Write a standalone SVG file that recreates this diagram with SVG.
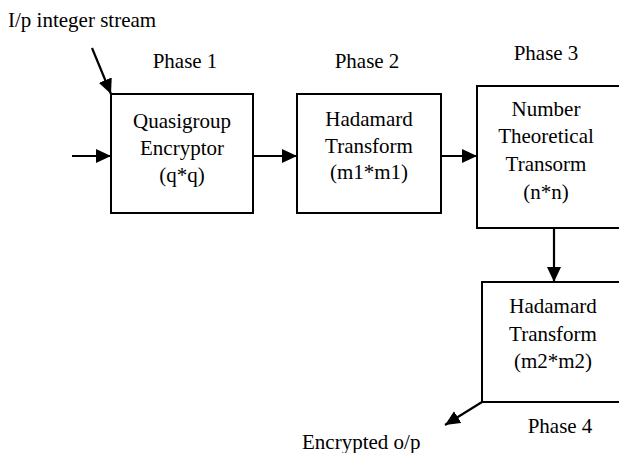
<svg xmlns="http://www.w3.org/2000/svg" width="619" height="453" viewBox="0 0 619 453" font-family="Liberation Serif, Times New Roman, serif" font-size="21">
<style>
.c{text-anchor:middle}
.box{fill:#fff;stroke:#000;stroke-width:2}
.ln{stroke:#000;stroke-width:2.2;fill:none;marker-end:url(#ah)}
</style>
<defs>
<marker id="ah" markerUnits="userSpaceOnUse" markerWidth="16" markerHeight="14" refX="15" refY="7" orient="auto">
<path d="M0,0 L15,7 L0,14 Z" fill="#000"/>
</marker>
</defs>
<rect width="619" height="453" fill="#fff"/>
<text x="8" y="27">I/p integer stream</text>
<text class="c" x="185" y="68">Phase 1</text>
<text class="c" x="367" y="68">Phase 2</text>
<text class="c" x="546" y="60">Phase 3</text>
<text class="c" x="560" y="433">Phase 4</text>
<text x="302" y="449">Encrypted o/p</text>
<g id="n1">
<rect class="box" x="111" y="94" width="142" height="119"/>
<text class="c" x="182" y="128">Quasigroup</text>
<text class="c" x="182" y="155">Encryptor</text>
<text class="c" x="182" y="182">(q*q)</text>
</g>
<g id="n2">
<rect class="box" x="297" y="94" width="144" height="119"/>
<text class="c" x="369" y="126">Hadamard</text>
<text class="c" x="369" y="153">Transform</text>
<text class="c" x="369" y="179">(m1*m1)</text>
</g>
<g id="n3">
<rect class="box" x="477" y="86" width="145" height="142"/>
<text class="c" x="546" y="116">Number</text>
<text class="c" x="546" y="143">Theoretical</text>
<text class="c" x="546" y="171">Transorm</text>
<text class="c" x="546" y="199">(n*n)</text>
</g>
<g id="n4">
<rect class="box" x="482" y="282" width="145" height="120"/>
<text class="c" x="553" y="313">Hadamard</text>
<text class="c" x="553" y="341">Transform</text>
<text class="c" x="553" y="368">(m2*m2)</text>
</g>
<g id="connectors">
<line class="ln" x1="92" y1="48" x2="111" y2="94"/>
<line class="ln" x1="72" y1="156" x2="111" y2="156"/>
<line class="ln" x1="253" y1="156" x2="297" y2="156"/>
<line class="ln" x1="441" y1="156" x2="477" y2="156"/>
<line class="ln" x1="554" y1="228" x2="554" y2="282"/>
<line class="ln" x1="482" y1="402" x2="445" y2="425"/>
</g>
</svg>
